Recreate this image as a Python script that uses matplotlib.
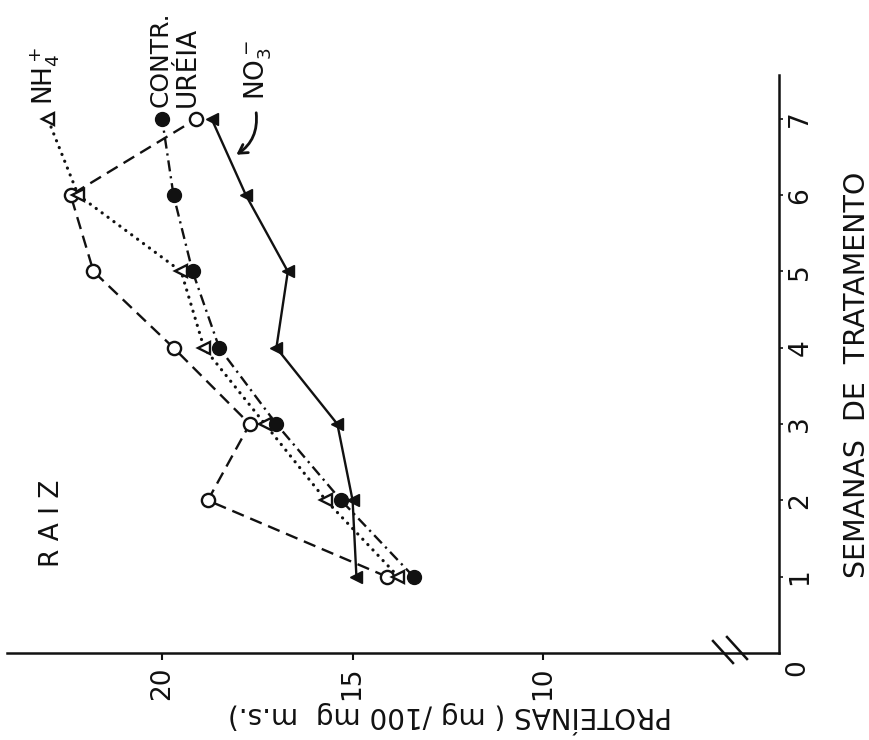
import matplotlib
matplotlib.use("Agg")
import matplotlib.pyplot as plt
from matplotlib.lines import Line2D
from matplotlib.transforms import offset_copy

plt.rcParams['font.family'] = ['DejaVu Sans']
plt.rcParams['mathtext.fontset'] = 'dejavusans'
plt.rcParams['lines.scale_dashes'] = False

# Weeks of treatment and root protein content (mg / 100 mg dry matter)
semanas = [1, 2, 3, 4, 5, 6, 7]
ureia = [14.1, 18.8, 17.7, 19.7, 21.8, 22.4, 19.1]
nh4 = [13.8, 15.7, 17.3, 18.9, 19.5, 22.2, 23.0]
controle = [13.4, 15.3, 17.0, 18.5, 19.2, 19.7, 20.0]
no3 = [14.9, 15.0, 15.4, 17.0, 16.7, 17.8, 18.7]

prot_ticks = [20, 15, 10]
prot_ticklabels = ['20', '15', '10']
sem_ticklabels = ['1', '2', '3', '4', '5', '6', '7']

W, H = 870, 740
ink = '#111111'

fig = plt.figure(figsize=(W / 100, H / 100), dpi=100)
fig.patch.set_facecolor('white')
# Page is turned a quarter: protein runs right-to-left along the bottom,
# weeks run upward along the right side.
ax = fig.add_axes([7 / W, 1 - 653 / H, (779 - 7) / W, (653 - 75) / H])
ax.set_xlim(24.07, 3.81)
ax.set_ylim(0, 7.575)
ax.set_facecolor('white')

# Series
ax.plot(ureia, semanas, color=ink, lw=1.7, ls=(0, (9, 5)),
        marker='o', ms=9.5, mfc='white', mec=ink, mew=1.7, zorder=3)
ax.plot(nh4, semanas, color=ink, lw=2.3, ls=(0, (0.1, 5.2)),
        dash_capstyle='round', marker='<', ms=9, mfc='white', mec=ink,
        mew=1.7, zorder=3)
ax.plot(controle, semanas, color=ink, lw=1.7, ls=(0, (8, 3.5, 1.6, 3.5)),
        marker='o', ms=10, mfc=ink, mec=ink, zorder=4)
ax.plot(no3, semanas, color=ink, lw=1.7, ls='-',
        marker='<', ms=9, mfc=ink, mec=ink, zorder=4)

# Axes
for s in ['top', 'left']:
    ax.spines[s].set_visible(False)
for s in ['bottom', 'right']:
    ax.spines[s].set_linewidth(1.8)
    ax.spines[s].set_color(ink)

ax.xaxis.set_ticks_position('bottom')
ax.yaxis.set_ticks_position('right')
ax.set_xticks(prot_ticks)
ax.set_xticklabels(prot_ticklabels)
ax.set_yticks(semanas)
ax.set_yticklabels(sem_ticklabels)
ax.tick_params(axis='x', direction='out', length=5, width=1.5, pad=5,
               labelsize=19, labelrotation=90, colors=ink)
ax.tick_params(axis='y', direction='out', length=3, width=1.2, pad=3,
               labelsize=19, labelrotation=90, labelright=True,
               labelleft=False, colors=ink)
for lbl in ax.get_yticklabels():
    lbl.set_va('center')

# Origin label at the corner
ax.text(1.0, 0.0, '0', rotation=90, ha='center', va='center', fontsize=19,
        color=ink, transform=offset_copy(ax.transAxes, fig=fig, x=18, y=-15,
                                         units='dots'))

# Axis-break slashes on the protein axis, placed relative to the corner
x0, y0 = ax.transAxes.transform((1.0, 0.0))
for cx, cy in ((-56, 1), (-42, 5)):
    fig.add_artist(Line2D([(x0 + cx - 10) / W, (x0 + cx + 10) / W],
                          [(y0 + cy + 11) / H, (y0 + cy - 11) / H],
                          color=ink, lw=1.8, transform=fig.transFigure))


# Series labels, written along the week-axis direction
def side_label(x, y, s, size=19):
    ax.text(x, y, s, rotation=90, rotation_mode='anchor', ha='left',
            va='center', fontsize=size, color=ink, clip_on=False)


side_label(23.07, 7.18, r'NH$_4^+$')
side_label(20.05, 7.16, 'CONTR.', size=18)
side_label(19.32, 7.16, 'URÉIA')
side_label(17.48, 7.25, r'NO$_3^-$')
side_label(22.89, 1.13, 'R A I Z', size=19)

ax.annotate('', xy=(18.05, 6.53), xytext=(17.53, 7.08),
            arrowprops=dict(arrowstyle='->,head_length=0.6,head_width=0.35',
                            color=ink, lw=2, shrinkA=0, shrinkB=0,
                            connectionstyle='arc3,rad=-0.3'))

# Axis titles
fig.text(450 / W, 1 - 717 / H, 'PROTEÍNAS ( mg /100 mg  m.s.)', rotation=180,
         ha='center', va='center', fontsize=20, color=ink)
fig.text(857 / W, 1 - 375 / H, 'SEMANAS  DE  TRATAMENTO', rotation=90,
         ha='center', va='center', fontsize=20.5, color=ink)

fig.savefig('out.png', dpi=100, facecolor='white')
